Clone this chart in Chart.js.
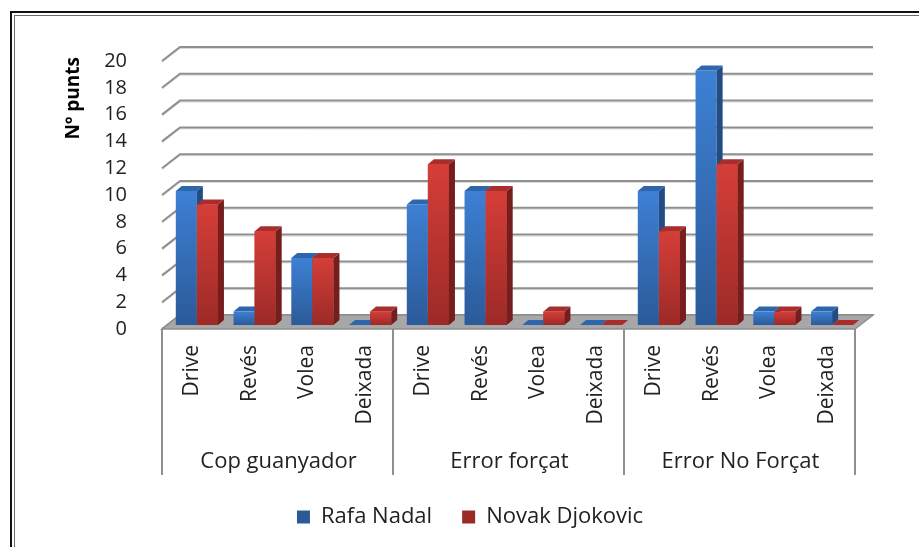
<!doctype html>
<html lang="ca">
<head>
<meta charset="UTF-8" />
<title>Nº punts</title>
<style>
  html, body { margin: 0; padding: 0; background: #fff; }
  #wrap { position: relative; width: 919px; height: 547px; overflow: hidden; }
  #frame { position: absolute; left: 10px; top: 11px; width: 960px; height: 600px; border: 2px solid #111; box-shadow: inset 0 0 0 2px #fff, inset 0 0 0 3px #6a6a6a; box-sizing: border-box; pointer-events: none; }
</style>
</head>
<body>
<div id="wrap"><canvas id="chart"></canvas><div id="frame"></div></div>

<script src="https://cdn.jsdelivr.net/npm/chart.js@4"></script>
<script>
  const strokes = ['Drive', 'Revés', 'Volea', 'Deixada', 'Drive', 'Revés', 'Volea', 'Deixada', 'Drive', 'Revés', 'Volea', 'Deixada']
  const groups = ['Cop guanyador', 'Error forçat', 'Error No Forçat']
  const nadal = [10, 1, 5, 0, 9, 10, 0, 0, 10, 19, 1, 1]
  const djokovic = [9, 7, 5, 1, 12, 10, 1, 0, 7, 12, 1, 0]
  const yTicks = [0, 2, 4, 6, 8, 10, 12, 14, 16, 18, 20]

  // offsets of the front edge and back wall from the plane the bars sit in
  const FRONT = { x: -6, y: 4 }
  const BACK = { x: 12, y: -10 }
  const BAR_DEPTH = { x: 6, y: -5 }

  const BLUE = { top: '#3d80d4', bottom: '#2b5a98', side: '#234c84', cap: '#2e66ad', key: '#3570bd' }
  const RED = { top: '#d53e38', bottom: '#9c2a27', side: '#761e1d', cap: '#a92e2b', key: '#c0362f' }

  const barFill = (c) => (ctx) => {
    const chart = ctx.chart
    if (ctx.type !== 'data' || !chart.chartArea) return c.key
    const y = chart.scales.y
    const y0 = y.getPixelForValue(0)
    const y1 = y.getPixelForValue(ctx.raw)
    if (y0 - y1 < 1) return c.bottom
    const g = chart.ctx.createLinearGradient(0, y1, 0, y0)
    g.addColorStop(0, c.top)
    g.addColorStop(1, c.bottom)
    return g
  }

  const gridLine = (ctx, pts) => {
    ctx.beginPath()
    pts.forEach((p, i) => (i ? ctx.lineTo(p[0], p[1] + 1.5) : ctx.moveTo(p[0], p[1] + 1.5)))
    ctx.strokeStyle = '#dadada'
    ctx.lineWidth = 1
    ctx.stroke()
    ctx.beginPath()
    pts.forEach((p, i) => (i ? ctx.lineTo(p[0], p[1]) : ctx.moveTo(p[0], p[1])))
    ctx.strokeStyle = '#8f8f8f'
    ctx.lineWidth = 2
    ctx.stroke()
  }

  const room3d = {
    id: 'room3d',
    beforeDatasetsDraw(chart) {
      const { ctx, chartArea: a, scales } = chart
      const y = scales.y
      const y0 = y.getPixelForValue(0)
      ctx.save()
      y.ticks.forEach((t) => {
        const py = y.getPixelForValue(t.value)
        gridLine(ctx, [
          [a.left + FRONT.x, py + FRONT.y],
          [a.left + BACK.x, py + BACK.y],
          [a.right + BACK.x, py + BACK.y],
        ])
      })
      // floor
      ctx.beginPath()
      ctx.moveTo(a.left + FRONT.x, y0 + FRONT.y)
      ctx.lineTo(a.right + FRONT.x, y0 + FRONT.y)
      ctx.lineTo(a.right + BACK.x, y0 + BACK.y)
      ctx.lineTo(a.left + BACK.x, y0 + BACK.y)
      ctx.closePath()
      ctx.fillStyle = '#a7a7a7'
      ctx.fill()
      ctx.strokeStyle = '#8f8f8f'
      ctx.lineWidth = 1.5
      ctx.stroke()
      ctx.restore()
    },
    afterDatasetsDraw(chart) {
      const { ctx } = chart
      const metas = [0, 1].map((i) => chart.getDatasetMeta(i))
      const colors = [BLUE, RED]
      ctx.save()
      strokes.forEach((_, i) => {
        metas.forEach((meta, d) => {
          const el = meta.data[i]
          // redraw the right bar so the left bar's side face sits behind it
          if (d > 0) el.draw(ctx)
          const { x, y, base, width } = el.getProps(['x', 'y', 'base', 'width'], true)
          const l = x - width / 2
          const r = x + width / 2
          ctx.beginPath()
          ctx.moveTo(r, y)
          ctx.lineTo(r + BAR_DEPTH.x, y + BAR_DEPTH.y)
          ctx.lineTo(r + BAR_DEPTH.x, base + BAR_DEPTH.y)
          ctx.lineTo(r, base)
          ctx.closePath()
          ctx.fillStyle = colors[d].side
          ctx.fill()
          ctx.beginPath()
          ctx.moveTo(l, y)
          ctx.lineTo(l + BAR_DEPTH.x, y + BAR_DEPTH.y)
          ctx.lineTo(r + BAR_DEPTH.x, y + BAR_DEPTH.y)
          ctx.lineTo(r, y)
          ctx.closePath()
          ctx.fillStyle = colors[d].cap
          ctx.fill()
        })
      })
      ctx.restore()
    },
    afterDraw(chart) {
      const { ctx, scales } = chart
      const { x, y, x2 } = scales
      const y0 = y.getPixelForValue(0) + FRONT.y
      const step = x.getPixelForValue(1) - x.getPixelForValue(0)
      const per = strokes.length / groups.length
      ctx.save()
      ctx.strokeStyle = '#8f8f8f'
      ctx.lineWidth = 2
      for (let g = 0; g <= groups.length; g++) {
        const px = x.getPixelForValue(g * per) - step / 2 + FRONT.x
        ctx.beginPath()
        ctx.moveTo(px, y0)
        ctx.lineTo(px, x2.top + 40)
        ctx.stroke()
      }
      ctx.restore()
    },
    afterLayout(chart) {
      chart.legend.left += 22
      chart.legend.right += 22
    },
  }

  Chart.defaults.font.family = "'Open Sans', sans-serif"
  Chart.defaults.color = '#222'

  new Chart(document.getElementById('chart'), {
    type: 'bar',
    data: {
      labels: strokes,
      datasets: [
        { label: 'Rafa Nadal', data: nadal, backgroundColor: barFill(BLUE), borderWidth: 0 },
        { label: 'Novak Djokovic', data: djokovic, backgroundColor: barFill(RED), borderWidth: 0 },
      ],
    },
    options: {
      animation: false,
      responsive: true,
      maintainAspectRatio: false,
      categoryPercentage: 0.73,
      barPercentage: 1,
      layout: { padding: { top: 57, left: 35, right: 58, bottom: 9 } },
      plugins: {
        tooltip: { enabled: false },
        legend: {
          position: 'bottom',
          labels: {
            boxWidth: 13,
            boxHeight: 13,
            padding: 30,
            font: { size: 22 },
            sort: (a, b) => a.datasetIndex - b.datasetIndex,
          },
        },
      },
      scales: {
        x: {
          grid: { display: false },
          border: { display: false },
          ticks: { maxRotation: 90, minRotation: 90, padding: 12, labelOffset: -5, font: { size: 21 } },
          afterFit: (s) => { s.height = 110 },
        },
        x2: {
          type: 'category',
          labels: groups,
          position: 'bottom',
          offset: true,
          grid: { display: false },
          border: { display: false },
          ticks: { padding: 6, labelOffset: -5, font: { size: 22 } },
          afterFit: (s) => { s.height = 41 },
        },
        y: {
          min: 0,
          max: 20,
          grid: { display: false },
          border: { display: false },
          afterBuildTicks: (s) => { s.ticks = yTicks.map((v) => ({ value: v })) },
          ticks: { autoSkip: false, padding: 33, labelOffset: 4, font: { size: 20 } },
          title: {
            display: true,
            text: 'Nº punts',
            align: 'end',
            padding: { top: 27, bottom: 0 },
            font: { size: 19, weight: 'bold' },
            color: '#000',
          },
          afterFit: (s) => { s.width = 133 },
        },
      },
    },
    plugins: [room3d],
  })
</script>
</body>
</html>
